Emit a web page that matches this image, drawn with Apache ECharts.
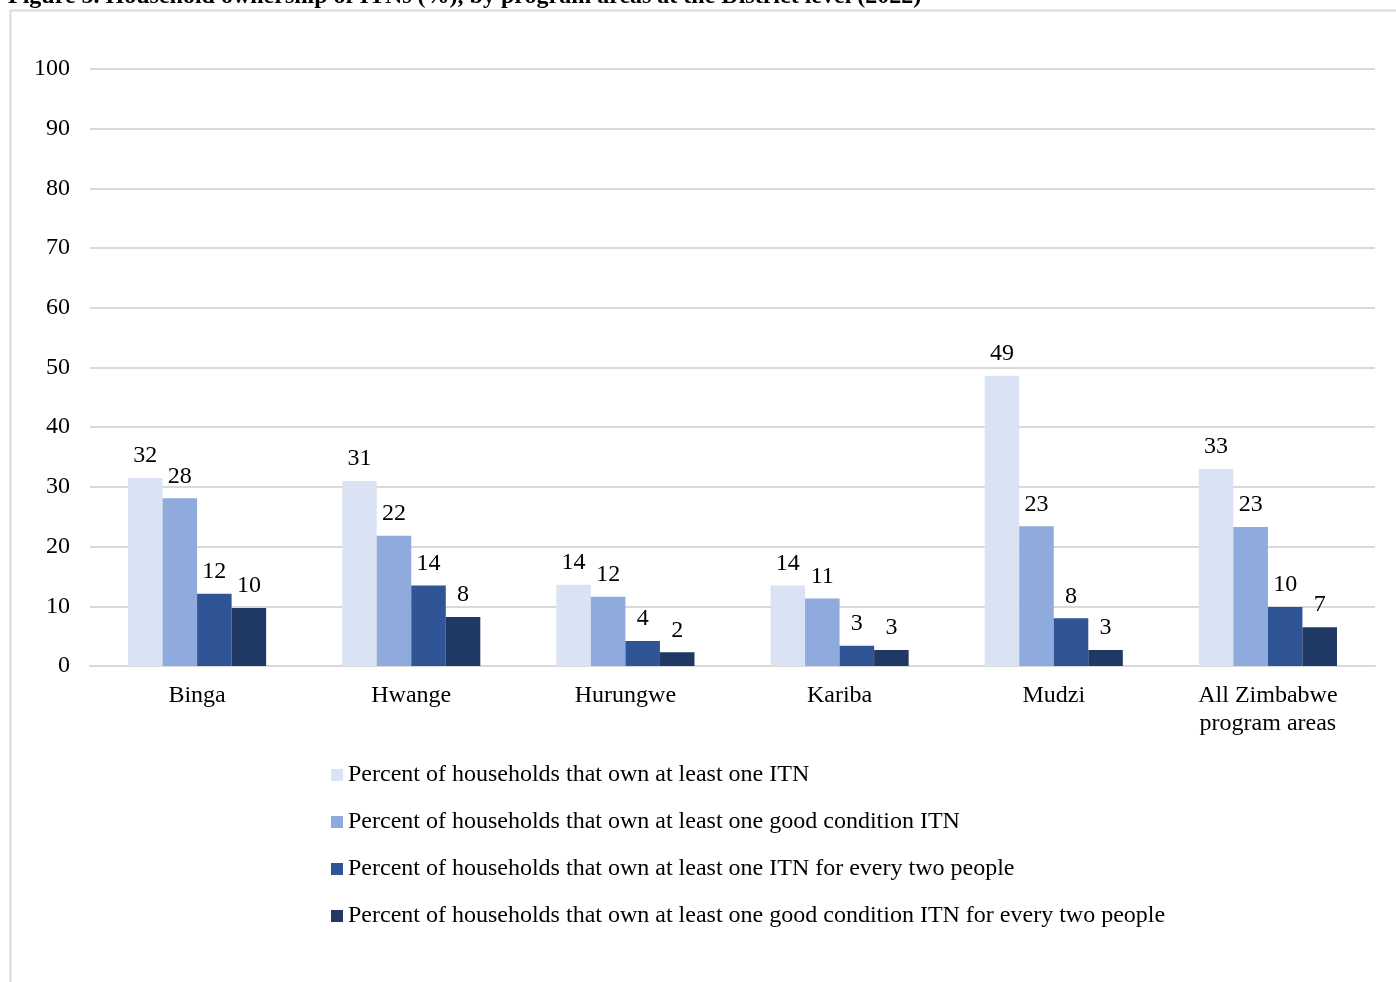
<!DOCTYPE html>
<html>
<head>
<meta charset="utf-8">
<script src="https://cdn.jsdelivr.net/npm/echarts@6/dist/echarts.min.js"></script>
<style>
  html, body { margin: 0; padding: 0; background: #ffffff; }
  #chart { width: 1396px; height: 982px; }
</style>
</head>
<body>
<div id="chart"></div>
<script>
// District program areas
const categories = ['Binga', 'Hwange', 'Hurungwe', 'Kariba', 'Mudzi', 'All Zimbabwe\nprogram areas'];

// Household ITN ownership indicators (%)
const ownAtLeastOne = [31.5, 31.0, 13.6, 13.5, 48.6, 33.0];
const ownGoodCondition = [28.1, 21.8, 11.6, 11.3, 23.4, 23.3];
const ownOnePerTwo = [12.1, 13.5, 4.2, 3.4, 8.0, 9.9];
const ownGoodOnePerTwo = [9.7, 8.2, 2.3, 2.7, 2.7, 6.5];

const seriesNames = [
  'Percent of households that own at least one ITN',
  'Percent of households that own at least one good condition ITN',
  'Percent of households that own at least one ITN for every two people',
  'Percent of households that own at least one good condition ITN for every two people'
];
const seriesColors = ['#DAE3F3', '#8FAADC', '#2F5597', '#203864'];
const seriesValues = [ownAtLeastOne, ownGoodCondition, ownOnePerTwo, ownGoodOnePerTwo];

const yTicks = { min: 0, max: 100, interval: 10 };
const titleText = 'Figure 5. Household ownership of ITNs (%), by program areas at the District level (2022)';

const FONT = '"Liberation Serif", "Times New Roman", serif';

const chart = echarts.init(document.getElementById('chart'), null, { renderer: 'canvas' });

chart.setOption({
  backgroundColor: '#ffffff',
  animation: false,
  textStyle: { fontFamily: FONT, color: '#000000' },
  graphic: [
    {
      type: 'rect',
      shape: { x: 10.5, y: 10.5, width: 1400, height: 1000 },
      style: { fill: 'none', stroke: '#d9d9d9', lineWidth: 2 },
      silent: true,
      z: -1
    },
    {
      type: 'text',
      x: 8,
      y: -15,
      style: {
        text: titleText,
        font: 'bold 24px ' + FONT,
        fill: '#000000'
      },
      silent: true
    }
  ],
  grid: { left: 90, right: 21, top: 69, bottom: 316, containLabel: false },
  legend: {
    orient: 'vertical',
    left: 326,
    top: 758,
    itemWidth: 12,
    itemHeight: 12,
    itemGap: 23,
    icon: 'rect',
    textStyle: { fontFamily: FONT, fontSize: 24, color: '#000000' },
    data: seriesNames
  },
  xAxis: {
    type: 'category',
    data: categories,
    axisTick: { show: false },
    axisLine: { show: true, lineStyle: { color: '#d9d9d9', width: 2 } },
    axisLabel: {
      fontFamily: FONT,
      fontSize: 24,
      color: '#000000',
      margin: 16,
      lineHeight: 28
    }
  },
  yAxis: {
    type: 'value',
    min: yTicks.min,
    max: yTicks.max,
    interval: yTicks.interval,
    axisLine: { show: false },
    axisTick: { show: false },
    splitLine: { lineStyle: { color: '#d9d9d9', width: 2 } },
    axisLabel: { fontFamily: FONT, fontSize: 24, color: '#000000', margin: 20 }
  },
  series: seriesNames.map((name, i) => ({
    name: name,
    type: 'bar',
    data: seriesValues[i],
    barGap: '0%',
    barCategoryGap: '35.5%',
    itemStyle: { color: seriesColors[i] },
    label: {
      show: true,
      position: 'top',
      distance: 10,
      fontFamily: FONT,
      fontSize: 24,
      color: '#000000',
      formatter: p => Math.round(p.value)
    }
  }))
});
</script>
</body>
</html>
